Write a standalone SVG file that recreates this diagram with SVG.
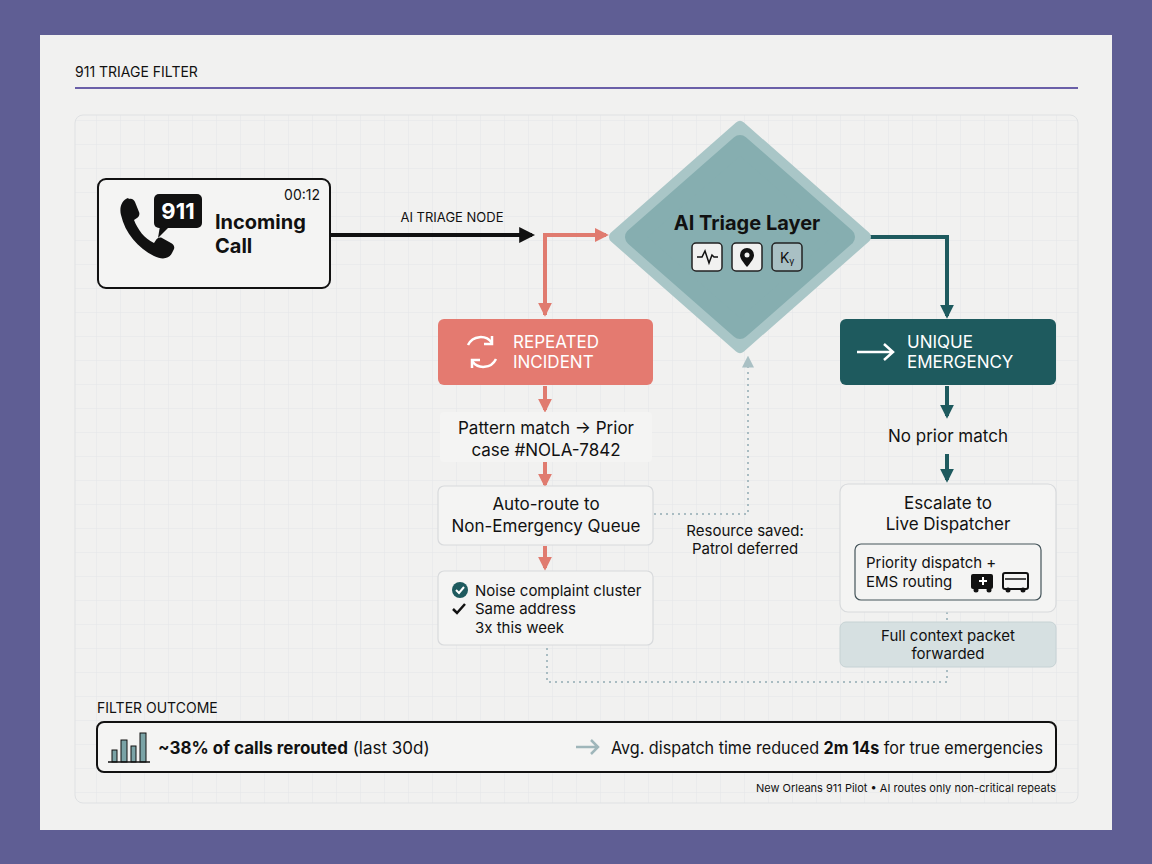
<svg xmlns="http://www.w3.org/2000/svg" width="1152" height="864" viewBox="0 0 1152 864">
<defs>
<pattern id="grid" width="24" height="24" patternUnits="userSpaceOnUse"><path d="M24 0H0V24" fill="none" stroke="#e3e5e8" stroke-width="1"/></pattern>
<marker id="ab" viewBox="0 0 10 10" refX="8" refY="5" markerWidth="4" markerHeight="4" orient="auto"><path d="M0 0L10 5L0 10z" fill="#111"/></marker>
<marker id="ar" viewBox="0 0 10 10" refX="8" refY="5" markerWidth="3.5" markerHeight="3.5" orient="auto"><path d="M0 0L10 5L0 10z" fill="#e07b6f"/></marker>
<marker id="at" viewBox="0 0 10 10" refX="8" refY="5" markerWidth="3.5" markerHeight="3.5" orient="auto"><path d="M0 0L10 5L0 10z" fill="#1e5a5e"/></marker>
<marker id="ag" viewBox="0 0 10 10" refX="8" refY="5" markerWidth="6" markerHeight="6" orient="auto"><path d="M0 0L10 5L0 10z" fill="#a9c0c4"/></marker>
</defs>
<style>
text{font-family:"Inter","Liberation Sans",sans-serif;fill:#111}
.box{fill:#f4f4f3;stroke:#d8dadc;stroke-width:1.2}
.t{font-size:17px}
.s{font-size:15px}
.c{text-anchor:middle}
.w{fill:#fff}
.dot{fill:none;stroke:#a9bcc2;stroke-width:2;stroke-dasharray:2 4}
</style>
<rect width="1152" height="864" fill="#5f5e94"/>
<rect x="40" y="35" width="1072" height="795" fill="#f1f1f0"/>
<text x="75" y="77" font-size="14">911 TRIAGE FILTER</text>
<line x1="75" y1="88" x2="1078" y2="88" stroke="#6a5fa8" stroke-width="2"/>
<rect x="75" y="115" width="1003" height="688" rx="8" fill="url(#grid)" stroke="#dfe1e3"/>

<g id="connectors">
<path d="M330 235H532" stroke="#111" stroke-width="4" fill="none" marker-end="url(#ab)"/>
<text x="452" y="222" font-size="13" class="c">AI TRIAGE NODE</text>
<path d="M545 315V235H606" stroke="#e07b6f" stroke-width="4" fill="none" marker-end="url(#ar)"/>
<path d="M545 290V314" stroke="#e07b6f" stroke-width="4" fill="none" marker-end="url(#ar)"/>
<path d="M866 237H947V316" stroke="#1e5a5e" stroke-width="4" fill="none" marker-end="url(#at)"/>
<path d="M545 386V410" stroke="#e07b6f" stroke-width="4" marker-end="url(#ar)"/>
<path d="M545 462V485" stroke="#e07b6f" stroke-width="4" marker-end="url(#ar)"/>
<path d="M545 546V568" stroke="#e07b6f" stroke-width="4" marker-end="url(#ar)"/>
<path d="M947 386V416" stroke="#1e5a5e" stroke-width="4" marker-end="url(#at)"/>
<path d="M947 454V480" stroke="#1e5a5e" stroke-width="4" marker-end="url(#at)"/>
<path class="dot" d="M654 514H748V358" marker-end="url(#ag)"/>
<path class="dot" d="M547 648V682H947V668"/>
<path class="dot" d="M947 612V622"/>
<text x="745" y="536" class="s c">Resource saved:</text>
<text x="745" y="554" class="s c">Patrol deferred</text>
</g>

<g id="incoming">
<rect x="98" y="179" width="232" height="109" rx="8" fill="#f4f4f3" stroke="#111" stroke-width="2"/>
<path d="M128 198c-6 2-9 9-7 17c4 18 17 33 33 41c8 4 15 3 18-3l2-4c1-3-1-5-3-6l-9-5c-2-1-5 0-6 2l-2 3c-10-5-16-13-20-23l3-2c2-1 3-4 2-6l-4-10c-1-2-3-4-6-3z" fill="#111"/>
<rect x="154" y="194" width="48" height="34" rx="5" fill="#111"/>
<path d="M160 226l-2 12l10-10z" fill="#111"/>
<text x="178" y="219" font-size="22" font-weight="bold" class="c w">911</text>
<text x="215" y="229" font-size="20" font-weight="bold">Incoming</text>
<text x="215" y="253" font-size="20" font-weight="bold">Call</text>
<text x="320" y="200" font-size="14" text-anchor="end">00:12</text>
</g>

<g id="triage">
<path d="M740 127L865 237L740 347L615 237z" fill="#a9c6c7" stroke="#a9c6c7" stroke-width="12" stroke-linejoin="round"/>
<path d="M740 144L846 237L740 330L634 237z" fill="#86aeb0" stroke="#86aeb0" stroke-width="18" stroke-linejoin="round"/>
<text x="747" y="230" font-size="20" font-weight="bold" class="c">AI Triage Layer</text>
<rect x="692" y="243" width="30" height="28" rx="4" fill="#f1f1f0" stroke="#222" stroke-width="1.5"/>
<path d="M697 257h5l3-6l4 12l3-8l2 2h4" fill="none" stroke="#111" stroke-width="1.5"/>
<rect x="732" y="243" width="30" height="28" rx="4" fill="#f1f1f0" stroke="#222" stroke-width="1.5"/>
<path d="M747 267c-5-6-7-9-7-12a7 7 0 0 1 14 0c0 3-2 6-7 12z" fill="#111"/><circle cx="747" cy="255" r="2.5" fill="#f1f1f0"/>
<rect x="772" y="243" width="30" height="28" rx="4" fill="#a9c0c4" stroke="#222" stroke-width="1.5"/>
<text x="787" y="263" font-size="14" class="c">Kᵧ</text>
</g>

<g id="repeated">
<rect x="438" y="319" width="215" height="66" rx="6" fill="#e47a70"/>
<path d="M468 345a14 14 0 0 1 24 -2M496 359a14 14 0 0 1 -24 2" fill="none" stroke="#fff" stroke-width="2.5"/>
<path d="M492 336v8h-8M472 368v-8h8" fill="none" stroke="#fff" stroke-width="2.5"/>
<text x="513" y="348" class="t w">REPEATED</text>
<text x="513" y="368" class="t w">INCIDENT</text>
</g>

<g id="pattern">
<rect x="440" y="412" width="212" height="50" rx="4" fill="#f4f4f3"/>
<text x="546" y="434" class="t c">Pattern match → Prior</text>
<text x="546" y="456" class="t c">case #NOLA-7842</text>
</g>

<g id="autoroute">
<rect class="box" x="438" y="486" width="215" height="59" rx="6"/>
<text x="546" y="510" class="t c">Auto-route to</text>
<text x="546" y="532" class="t c">Non-Emergency Queue</text>
</g>

<g id="noise">
<rect class="box" x="438" y="571" width="215" height="74" rx="6"/>
<circle cx="460" cy="590" r="8" fill="#1e5a5e"/>
<path d="M456 590l3 3l5-6" fill="none" stroke="#fff" stroke-width="2"/>
<path d="M453 609l4 4l8-9" fill="none" stroke="#111" stroke-width="2.5"/>
<text x="475" y="596" class="s">Noise complaint cluster</text>
<text x="475" y="614" class="s">Same address</text>
<text x="475" y="633" class="s">3x this week</text>
</g>

<g id="unique">
<rect x="840" y="319" width="216" height="66" rx="6" fill="#1e5a5e"/>
<path d="M857 352h36M884 344l9 8l-9 8" fill="none" stroke="#fff" stroke-width="2.5"/>
<text x="907" y="348" class="t w">UNIQUE</text>
<text x="907" y="368" class="t w">EMERGENCY</text>
</g>

<g id="noprior">
<text x="948" y="442" class="t c">No prior match</text>
</g>

<g id="escalate">
<rect class="box" x="840" y="484" width="216" height="128" rx="8"/>
<text x="948" y="509" class="t c">Escalate to</text>
<text x="948" y="530" class="t c">Live Dispatcher</text>
<rect x="855" y="544" width="186" height="56" rx="6" fill="#f4f4f3" stroke="#44545a" stroke-width="1.2"/>
<text x="866" y="568" class="s">Priority dispatch +</text>
<text x="866" y="587" class="s">EMS routing</text>
<rect x="971" y="574" width="22" height="15" rx="2" fill="#111"/><circle cx="976" cy="590" r="2.5" fill="#111"/><circle cx="989" cy="590" r="2.5" fill="#111"/>
<path d="M979 581h8M983 577v8" stroke="#fff" stroke-width="2"/>
<rect x="1003" y="573" width="25" height="16" rx="2" fill="#f4f4f3" stroke="#111" stroke-width="2"/><circle cx="1008" cy="590" r="2.5" fill="#111"/><circle cx="1023" cy="590" r="2.5" fill="#111"/>
<path d="M1005 579h21" stroke="#111" stroke-width="1.5"/>
</g>

<g id="context">
<rect x="840" y="622" width="216" height="45" rx="6" fill="#d6e0e1" stroke="#c6d2d4"/>
<text x="948" y="641" class="s c">Full context packet</text>
<text x="948" y="659" class="s c">forwarded</text>
</g>

<g id="outcome">
<text x="97" y="713" font-size="14">FILTER OUTCOME</text>
<rect x="97" y="722" width="959" height="50" rx="7" fill="#f4f4f3" stroke="#111" stroke-width="2"/>
<g fill="#7aa3a6" stroke="#111" stroke-width="1"><rect x="112" y="750" width="5" height="12"/><rect x="121" y="740" width="6" height="22"/><rect x="131" y="746" width="5" height="16"/><rect x="140" y="733" width="6" height="29"/></g>
<line x1="108" y1="762" x2="150" y2="762" stroke="#111" stroke-width="1.5"/>
<text x="158" y="754" class="t"><tspan font-weight="bold">~38% of calls rerouted</tspan> (last 30d)</text>
<path d="M576 747h22M591 740l7 7l-7 7" fill="none" stroke="#9fb6ba" stroke-width="2.5"/>
<text x="611" y="754" class="t" textLength="432" lengthAdjust="spacingAndGlyphs">Avg. dispatch time reduced <tspan font-weight="bold">2m 14s</tspan> for true emergencies</text>
<text x="1056" y="792" font-size="11" text-anchor="end">New Orleans 911 Pilot • AI routes only non-critical repeats</text>
</g>
</svg>
